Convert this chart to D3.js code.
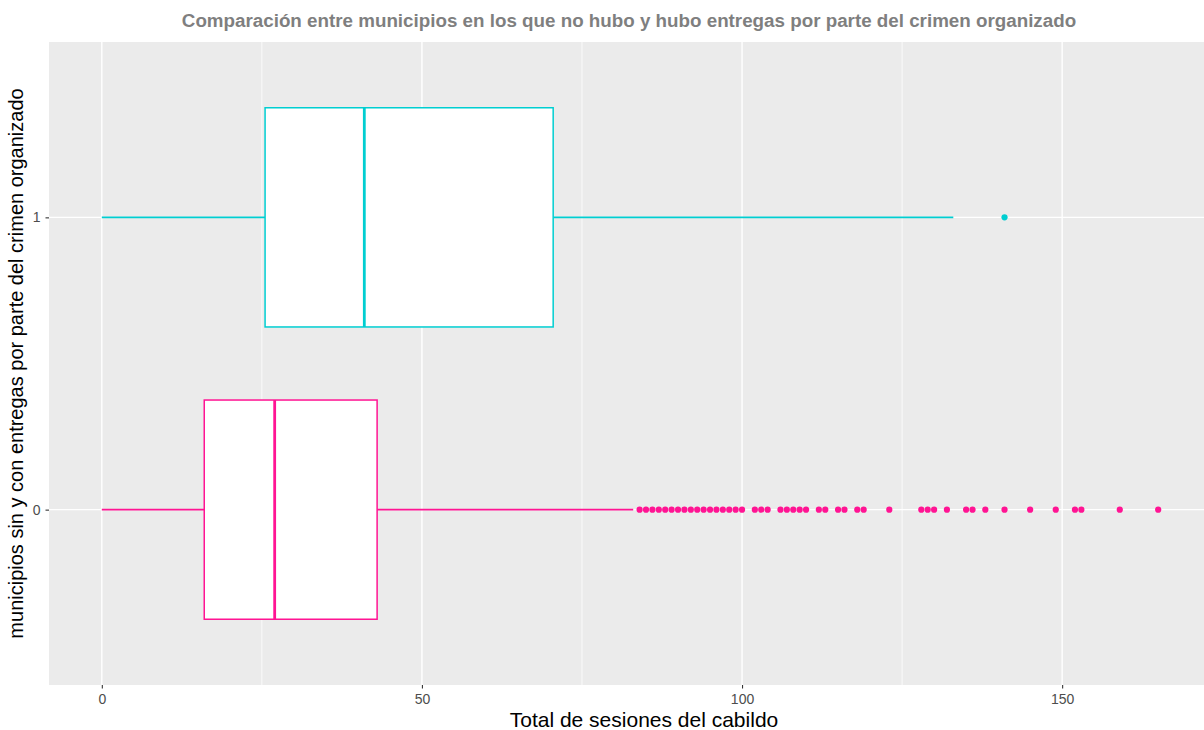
<!DOCTYPE html>
<html>
<head>
<meta charset="utf-8">
<script src="https://cdn.jsdelivr.net/npm/d3@7"></script>
<style>
  html, body { margin: 0; padding: 0; background: #ffffff; }
  svg { display: block; font-family: "Liberation Sans", Arial, sans-serif; }
</style>
</head>
<body>
<svg id="chart" width="1204" height="730"></svg>
<script>
// Grupos: 1 = hubo entregas, 0 = no hubo entregas
const groups = ["1", "0"];
const groupColors = ["#00CED1", "#FF1493"];

// Resumen de cada caja (Total de sesiones del cabildo)
const whiskerLow = [0, 0];
const q1 = [25.5, 16];
const median = [41, 27];
const q3 = [70.5, 43];
const whiskerHigh = [133, 83];

// Valores atípicos por grupo
const outliers1 = [141];
const outliers0 = [84, 85, 86, 87, 88, 89, 90, 91, 92, 93, 94, 95, 96, 97, 98, 99, 100,
  102, 103, 104, 106, 107, 108, 109, 110, 112, 113, 115, 116, 118, 119, 123,
  128, 129, 130, 132, 135, 136, 138, 141, 145, 149, 152, 153, 159, 165];
const outliers = [outliers1, outliers0];

const xMajorTicks = [0, 50, 100, 150];
const xMinorTicks = [25, 75, 125];

const titleText = "Comparación entre municipios en los que no hubo y hubo entregas por parte del crimen organizado";
const xTitle = "Total de sesiones del cabildo";
const yTitle = "municipios sin y con entregas por parte del crimen organizado";

const panel = { left: 49, top: 42, right: 1211, bottom: 685 };

const svg = d3.select("#chart");

const x = d3.scaleLinear().domain([-8.25, 173.25]).range([panel.left, panel.right]);
const y = d3.scalePoint().domain(groups).range([panel.top, panel.bottom]).padding(0.6);
const boxH = y.step() * 0.75;

// Panel background
svg.append("rect")
  .attr("x", panel.left).attr("y", panel.top)
  .attr("width", panel.right - panel.left).attr("height", panel.bottom - panel.top)
  .attr("fill", "#EBEBEB");

const grid = svg.append("g");
grid.selectAll("line.minor").data(xMinorTicks).join("line")
  .attr("class", "minor")
  .attr("x1", d => x(d)).attr("x2", d => x(d))
  .attr("y1", panel.top).attr("y2", panel.bottom)
  .attr("stroke", "#ffffff").attr("stroke-width", 0.8);
grid.selectAll("line.vmajor").data(xMajorTicks).join("line")
  .attr("class", "vmajor")
  .attr("x1", d => x(d)).attr("x2", d => x(d))
  .attr("y1", panel.top).attr("y2", panel.bottom)
  .attr("stroke", "#ffffff").attr("stroke-width", 1.4);
grid.selectAll("line.hmajor").data(groups).join("line")
  .attr("class", "hmajor")
  .attr("x1", panel.left).attr("x2", panel.right)
  .attr("y1", d => y(d)).attr("y2", d => y(d))
  .attr("stroke", "#ffffff").attr("stroke-width", 1.4);

// Boxplots
const boxes = groups.map((g, i) => ({
  g, color: groupColors[i],
  lo: whiskerLow[i], q1: q1[i], med: median[i], q3: q3[i], hi: whiskerHigh[i],
  out: outliers[i]
}));

const bg = svg.append("g").selectAll("g").data(boxes).join("g");

bg.append("line")
  .attr("x1", d => x(d.lo)).attr("x2", d => x(d.q1))
  .attr("y1", d => y(d.g)).attr("y2", d => y(d.g))
  .attr("stroke", d => d.color).attr("stroke-width", 1.6);
bg.append("line")
  .attr("x1", d => x(d.q3)).attr("x2", d => x(d.hi))
  .attr("y1", d => y(d.g)).attr("y2", d => y(d.g))
  .attr("stroke", d => d.color).attr("stroke-width", 1.6);
bg.append("rect")
  .attr("x", d => x(d.q1)).attr("width", d => x(d.q3) - x(d.q1))
  .attr("y", d => y(d.g) - boxH / 2).attr("height", boxH)
  .attr("fill", "#ffffff").attr("stroke", d => d.color).attr("stroke-width", 1.5);
bg.append("line")
  .attr("x1", d => x(d.med)).attr("x2", d => x(d.med))
  .attr("y1", d => y(d.g) - boxH / 2).attr("y2", d => y(d.g) + boxH / 2)
  .attr("stroke", d => d.color).attr("stroke-width", 2.8);
bg.selectAll("circle").data(d => d.out.map(v => ({ v, g: d.g, color: d.color }))).join("circle")
  .attr("cx", d => x(d.v)).attr("cy", d => y(d.g)).attr("r", 3.1)
  .attr("fill", d => d.color);

// Axes
const xAxis = svg.append("g")
  .attr("transform", `translate(0,${panel.bottom})`)
  .call(d3.axisBottom(x).tickValues(xMajorTicks).tickSize(3.5).tickPadding(6));
xAxis.select(".domain").remove();
xAxis.selectAll(".tick line").attr("stroke", "#333333").attr("stroke-width", 1.1);
xAxis.selectAll(".tick text").attr("fill", "#4D4D4D").attr("font-size", 14)
  .attr("font-family", "Liberation Sans, Arial, sans-serif");

const yAxis = svg.append("g")
  .attr("transform", `translate(${panel.left},0)`)
  .call(d3.axisLeft(y).tickSize(3.5).tickPadding(5));
yAxis.select(".domain").remove();
yAxis.selectAll(".tick line").attr("stroke", "#333333").attr("stroke-width", 1.1);
yAxis.selectAll(".tick text").attr("fill", "#4D4D4D").attr("font-size", 14)
  .attr("font-family", "Liberation Sans, Arial, sans-serif");

// Titles
svg.append("text")
  .attr("x", 629).attr("y", 27)
  .attr("text-anchor", "middle")
  .attr("font-size", 18.8).attr("font-weight", "bold").attr("fill", "#7F7F7F")
  .text(titleText);

svg.append("text")
  .attr("x", 644).attr("y", 727)
  .attr("text-anchor", "middle")
  .attr("font-size", 21).attr("fill", "#000000")
  .text(xTitle);

svg.append("text")
  .attr("transform", `translate(23,${(panel.top + panel.bottom) / 2}) rotate(-90)`)
  .attr("text-anchor", "middle")
  .attr("font-size", 20).attr("fill", "#000000")
  .text(yTitle);
</script>
</body>
</html>
